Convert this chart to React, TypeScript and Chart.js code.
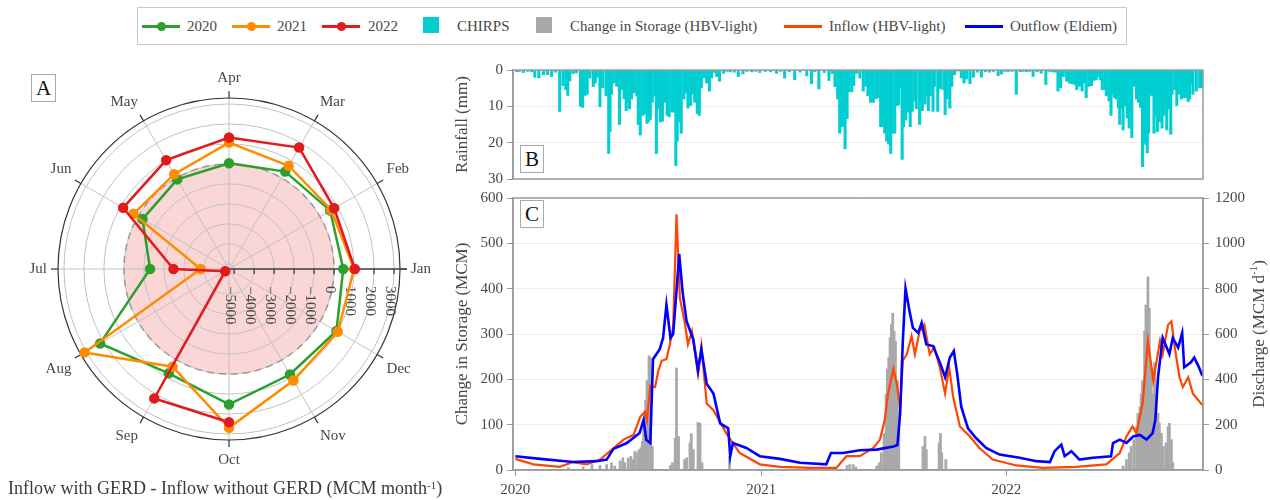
import React, { useEffect, useRef } from 'react';
import { Chart, registerables } from 'chart.js';
Chart.register(...registerables);

const FONT = '"Liberation Serif", "Times New Roman", Times, serif';
const TEXT = '#474747';
const GREEN = '#2ca02c';
const ORANGE = '#ff8c00';
const RED = '#e31a1c';
const CYAN = '#00ced1';
const GREY = '#a9a9a9';
const INFLOW = '#ff4500';
const OUTFLOW = '#0000ff';

// ---------------- Panel A ----------------
const monthNames = ['Jan', 'Feb', 'Mar', 'Apr', 'May', 'Jun', 'Jul', 'Aug', 'Sep', 'Oct', 'Nov', 'Dec'];
const radarOrder = [3, 2, 1, 0, 11, 10, 9, 8, 7, 6, 5, 4];
const diff2020 = [460, 590, 370, 30, -80, -260, -1310, 2190, 770, 1520, 840, 950];
const diff2021 = [1000, 650, 710, 1070, 220, 260, -3840, 3090, 390, 2690, 1190, 1030];
const diff2022 = [1040, 820, 1760, 1320, 1030, 860, -2480, -5040, 2220, 2410, null, null];
const radarTicks = [-5000, -4000, -3000, -2000, -1000, 0, 1000, 2000, 3000];
const RADAR_MIN = -5260;
const RADAR_MAX = 3300;

// ---------------- Panels B & C (day index from 2020-01-01) ----------------
const yearTicks = [0, 366, 731];
const yearLabels = ['2020', '2021', '2022'];
const X_MIN = -3.5;
const X_MAX = 1024;

const rainDays = [2, 6, 12, 18, 24, 29, 35, 42, 48, 54, 60, 66, 71, 75, 78, 81, 86, 91, 97, 100, 104, 107, 111, 116, 119, 122, 126, 130, 135, 139, 141, 143, 147, 151, 155, 158, 162, 165, 167, 170, 173, 177, 181, 183, 186, 190, 193, 196, 198, 201, 204, 208, 210, 213, 216, 219, 223, 226, 229, 233, 236, 239, 241, 244, 247, 251, 254, 257, 261, 264, 267, 271, 274, 277, 281, 285, 289, 292, 296, 300, 304, 310, 315, 320, 326, 332, 339, 345, 352, 358, 364, 372, 380, 389, 395, 401, 408, 416, 424, 434, 441, 446, 452, 460, 467, 472, 476, 480, 483, 487, 491, 494, 497, 501, 504, 508, 513, 518, 522, 525, 529, 533, 537, 540, 544, 547, 550, 553, 556, 559, 561, 565, 568, 571, 573, 576, 578, 581, 584, 588, 591, 595, 597, 602, 606, 610, 612, 615, 618, 622, 624, 629, 633, 638, 640, 643, 647, 650, 654, 659, 664, 668, 672, 677, 682, 688, 694, 700, 706, 712, 719, 724, 729, 734, 740, 746, 752, 756, 761, 766, 771, 777, 783, 790, 795, 800, 804, 808, 812, 816, 821, 825, 829, 833, 836, 840, 844, 847, 850, 854, 858, 861, 865, 868, 871, 874, 878, 880, 884, 887, 889, 892, 895, 898, 900, 903, 905, 908, 911, 914, 917, 918, 921, 925, 928, 931, 934, 936, 939, 941, 943, 946, 948, 951, 954, 956, 959, 961, 963, 966, 968, 970, 973, 976, 978, 982, 985, 988, 992, 994, 998, 1002, 1004, 1006, 1009, 1014, 1019, 1023];
const rainMm = [0.5, 0.4, 0.7, 0.4, 0.5, 2.0, 2.2, 1.3, 1.3, 1.8, 0.6, 11.4, 4.3, 5.4, 7, 3, 1, 0.8, 10, 10.3, 7, 6.7, 2.2, 4.6, 3.6, 2, 10.1, 4.9, 7.1, 23, 17, 6.7, 3.6, 4.5, 15, 5.4, 7.9, 11.2, 8.9, 10.7, 8, 6.3, 7.1, 15, 17.9, 12.5, 12, 14.7, 14.3, 13.6, 8.9, 7.1, 23, 10.7, 14.3, 14.1, 8.9, 12.5, 12.9, 11.6, 11.6, 26.3, 19.6, 14.3, 17.4, 8, 6.3, 10.5, 9.8, 6.7, 8.9, 12, 12.5, 4.9, 2.2, 3.6, 5.8, 2.2, 0.7, 1.8, 3.1, 0.9, 0.4, 0.5, 0.6, 1.8, 1.1, 0.4, 0.5, 0.4, 0.7, 0.4, 0.5, 0.9, 0.4, 2.2, 0.5, 2.7, 0.6, 1.6, 3.8, 0.5, 5.2, 0.7, 2.9, 1, 4.6, 8, 17.4, 15.6, 21.7, 13.4, 6, 6, 4.3, 0.9, 2.2, 5.8, 4.5, 7.1, 8.9, 8.9, 7.9, 7.6, 15.6, 15.6, 17.4, 19.6, 20.4, 23, 17.4, 17.4, 9.8, 9.6, 4.9, 24.6, 15.6, 13.8, 11.6, 15.6, 11.4, 8.5, 10.7, 15, 11.2, 9.4, 7.1, 11.2, 7.1, 11.4, 4.5, 11.4, 5.2, 5.4, 12.3, 8, 10.5, 4.5, 1.3, 0.3, 2.2, 3.6, 2.5, 3.8, 2, 0.6, 2, 0.5, 0.6, 0.4, 1.6, 1.1, 0.4, 0.5, 0.4, 6.7, 0.5, 0.4, 0.5, 0.4, 1.8, 0.5, 0.9, 4, 0.4, 0.5, 0.6, 5.8, 4.9, 1.8, 3.1, 3.6, 3.8, 4, 5.4, 4.5, 5.8, 3.6, 7.6, 4.5, 4.3, 2.9, 2.7, 1.8, 2.7, 5.4, 5.4, 7.1, 8.5, 12.5, 6.7, 7.6, 8, 10.5, 15, 10.5, 16.5, 9.8, 13.2, 16, 12, 18.6, 4.5, 8, 8.9, 10.3, 26.6, 20.1, 20.5, 22.8, 17.4, 6.7, 7.1, 17.4, 12.5, 17, 14.3, 8.7, 16, 12.5, 8.7, 16.5, 10.7, 17.7, 6.7, 5.4, 9.8, 6.7, 8, 7.6, 7.6, 8.7, 8, 4, 6.7, 5.8, 4.9, 4.9];

const storageDays = [79, 101, 114, 126, 136, 143, 148, 156, 160, 163, 168, 172, 175, 178, 182, 184, 187, 189, 191, 194, 196, 199, 201, 204, 231, 234, 238, 240, 243, 252, 255, 260, 262, 265, 272, 275, 278, 319, 494, 498, 503, 507, 538, 542, 545, 549, 552, 554, 556, 558, 560, 562, 564, 566, 569, 571, 607, 610, 612, 631, 633, 635, 641, 905, 910, 914, 917, 921, 925, 927, 930, 932, 934, 937, 939, 942, 944, 947, 949, 952, 954, 957, 959, 962, 965, 969, 972, 974, 977, 979];
const storageMcm = [5, 7, 12, 10, 12, 16, 9, 20, 27, 16, 27, 30, 23, 41, 38, 45, 49, 63, 110, 154, 197, 252, 248, 52, 10, 16, 70, 225, 74, 23, 27, 60, 80, 45, 105, 103, 16, 30, 10, 12, 12, 7, 9, 16, 38, 81, 168, 223, 248, 292, 321, 346, 306, 284, 197, 125, 52, 74, 45, 60, 81, 38, 23, 9, 23, 38, 52, 67, 96, 125, 139, 168, 197, 306, 364, 426, 357, 226, 168, 237, 183, 125, 103, 81, 52, 60, 96, 103, 67, 16];

const inflowDays = [0, 27, 66, 86, 106, 126, 141, 161, 176, 186, 193, 196, 201, 208, 213, 218, 225, 230, 235, 240, 245, 252, 257, 263, 272, 277, 285, 295, 314, 334, 364, 394, 439, 478, 493, 513, 533, 543, 550, 555, 563, 568, 573, 577, 583, 590, 595, 602, 609, 617, 624, 632, 640, 646, 652, 662, 677, 691, 711, 746, 786, 835, 880, 900, 910, 919, 925, 934, 942, 950, 960, 964, 972, 977, 982, 989, 994, 1002, 1009, 1023];
const inflowMcmD = [49, 25, 14, 35, 25, 46, 83, 134, 155, 235, 257, 220, 373, 366, 438, 482, 489, 554, 627, 1128, 758, 656, 554, 612, 424, 547, 293, 264, 163, 75, 25, 14, 9, 9, 61, 61, 97, 134, 221, 337, 446, 380, 271, 482, 511, 591, 511, 612, 641, 511, 540, 453, 337, 453, 322, 192, 148, 97, 46, 20, 9, 14, 25, 75, 148, 192, 163, 293, 569, 395, 569, 511, 641, 656, 540, 409, 366, 409, 337, 286];

const outflowDays = [0, 37, 86, 121, 136, 146, 166, 185, 191, 195, 201, 205, 215, 220, 225, 231, 235, 241, 244, 249, 255, 265, 272, 277, 285, 295, 305, 317, 320, 324, 344, 364, 394, 424, 463, 470, 488, 513, 538, 563, 569, 573, 577, 581, 587, 592, 600, 605, 612, 622, 632, 640, 647, 653, 658, 664, 674, 686, 701, 721, 751, 776, 796, 803, 813, 818, 828, 840, 860, 887, 890, 900, 910, 920, 930, 940, 949, 953, 957, 964, 974, 979, 987, 993, 996, 1006, 1011, 1018, 1023];
const outflowMcmD = [61, 49, 35, 39, 46, 93, 119, 163, 221, 133, 119, 489, 533, 583, 729, 583, 600, 830, 953, 787, 656, 576, 438, 533, 380, 337, 206, 184, 61, 119, 97, 61, 49, 32, 25, 75, 75, 87, 90, 104, 110, 250, 569, 801, 700, 627, 605, 649, 554, 547, 475, 409, 496, 525, 424, 279, 184, 141, 97, 68, 54, 39, 35, 83, 112, 61, 83, 46, 54, 61, 119, 134, 119, 148, 155, 134, 163, 221, 409, 583, 511, 583, 540, 605, 453, 475, 496, 453, 416];

const pairs = (xs: number[], ys: number[]) => xs.map((x, i) => ({ x, y: ys[i] }));
const tickFont = { family: FONT, size: 15 };
const titleFont = { family: FONT, size: 17 };
const plainTick = (v: any) => String(v);

const radarExtras = {
  id: 'radarExtras',
  beforeDraw(chart: any) {
    const r = chart.scales.r;
    const ctx = chart.ctx;
    ctx.save();
    ctx.fillStyle = 'rgba(240,130,130,0.33)';
    ctx.beginPath();
    ctx.arc(r.xCenter, r.yCenter, r.getDistanceFromCenterForValue(0), 0, Math.PI * 2);
    ctx.fill();
    ctx.restore();
  },
  beforeDatasetsDraw(chart: any) {
    const r = chart.scales.r;
    const ctx = chart.ctx;
    const cx = r.xCenter;
    const cy = r.yCenter;
    const R = r.getDistanceFromCenterForValue(RADAR_MAX);
    ctx.save();
    ctx.strokeStyle = '#9a9a9a';
    ctx.lineWidth = 1.5;
    ctx.setLineDash([7, 5]);
    ctx.beginPath();
    ctx.arc(cx, cy, r.getDistanceFromCenterForValue(0), 0, Math.PI * 2);
    ctx.stroke();
    ctx.setLineDash([]);
    ctx.strokeStyle = '#333';
    ctx.lineWidth = 1.2;
    ctx.beginPath();
    ctx.arc(cx, cy, R, 0, Math.PI * 2);
    ctx.stroke();
    const n = chart.data.labels.length;
    for (let i = 0; i < n; i++) {
      const a = r.getIndexAngle(i) - Math.PI / 2;
      ctx.beginPath();
      ctx.moveTo(cx + R * Math.cos(a), cy + R * Math.sin(a));
      ctx.lineTo(cx + (R + 7) * Math.cos(a), cy + (R + 7) * Math.sin(a));
      ctx.stroke();
    }
    ctx.strokeStyle = '#444';
    ctx.lineWidth = 1.3;
    ctx.beginPath();
    ctx.moveTo(cx, cy);
    ctx.lineTo(cx + R + 7, cy);
    ctx.stroke();
    ctx.fillStyle = TEXT;
    ctx.font = `15px ${FONT}`;
    ctx.textAlign = 'left';
    ctx.textBaseline = 'middle';
    radarTicks.forEach((v) => {
      const x = cx + r.getDistanceFromCenterForValue(v);
      ctx.beginPath();
      ctx.moveTo(x, cy);
      ctx.lineTo(x, cy + 5);
      ctx.stroke();
      ctx.save();
      ctx.translate(x, cy + 17);
      ctx.rotate(Math.PI / 2);
      const label = v < 0 ? '\u2212' + Math.abs(v) : String(v);
      ctx.fillText(label, 0, 4);
      ctx.restore();
    });
    ctx.restore();
  },
};

const framePlugin = {
  id: 'frame',
  afterDatasetsDraw(chart: any) {
    const { ctx, chartArea: a } = chart;
    ctx.save();
    ctx.strokeStyle = '#9a9a9a';
    ctx.lineWidth = 1.5;
    ctx.strokeRect(a.left, a.top, a.right - a.left, a.bottom - a.top);
    ctx.restore();
  },
};

const dischargeTitle = {
  id: 'dischargeTitle',
  afterDraw(chart: any) {
    const { ctx, chartArea } = chart;
    const s = chart.scales.y1;
    const x = s.right - 10;
    const y = (chartArea.top + chartArea.bottom) / 2;
    const main = 'Discharge (MCM d';
    const sup = '-1';
    const end = ')';
    ctx.save();
    ctx.fillStyle = TEXT;
    ctx.translate(x, y);
    ctx.rotate(-Math.PI / 2);
    ctx.textBaseline = 'middle';
    ctx.textAlign = 'left';
    ctx.font = `17px ${FONT}`;
    const w1 = ctx.measureText(main).width;
    const w3 = ctx.measureText(end).width;
    ctx.font = `11px ${FONT}`;
    const w2 = ctx.measureText(sup).width;
    let sx = -(w1 + w2 + w3) / 2;
    ctx.font = `17px ${FONT}`;
    ctx.fillText(main, sx, 0);
    sx += w1;
    ctx.font = `11px ${FONT}`;
    ctx.fillText(sup, sx, -6);
    sx += w2;
    ctx.font = `17px ${FONT}`;
    ctx.fillText(end, sx, 0);
    ctx.restore();
  },
};

const legendEntries = [
  { label: '2020', kind: 'dot', color: GREEN, sx: 142, tx: 187 },
  { label: '2021', kind: 'dot', color: ORANGE, sx: 232, tx: 277 },
  { label: '2022', kind: 'dot', color: RED, sx: 322, tx: 368 },
  { label: 'CHIRPS', kind: 'box', color: CYAN, sx: 423, tx: 457 },
  { label: 'Change in Storage (HBV-light)', kind: 'box', color: GREY, sx: 536, tx: 570 },
  { label: 'Inflow (HBV-light)', kind: 'line', color: INFLOW, sx: 784, tx: 829 },
  { label: 'Outflow (Eldiem)', kind: 'line', color: OUTFLOW, sx: 965, tx: 1010 },
];

function LegendSymbol({ kind, color, left }: { kind: string; color: string; left: number }) {
  if (kind === 'box') {
    return <div style={{ position: 'absolute', left, top: 17, width: 16, height: 16, background: color }} />;
  }
  return (
    <div style={{ position: 'absolute', left, top: 25, width: 38, height: 3, background: color }}>
      {kind === 'dot' && (
        <div style={{ position: 'absolute', left: 15, top: -3, width: 9, height: 9, borderRadius: 5, background: color }} />
      )}
    </div>
  );
}

const panelBox = (left: number, top: number, w: number, h: number, size: number) => ({
  position: 'absolute' as const,
  left,
  top,
  width: w,
  height: h,
  border: '1px solid #aaa',
  background: '#fff',
  fontFamily: FONT,
  fontSize: size,
  color: '#111',
  display: 'flex',
  alignItems: 'center',
  justifyContent: 'center',
  boxSizing: 'border-box' as const,
});

export default function App() {
  const aRef = useRef<HTMLCanvasElement>(null);
  const bRef = useRef<HTMLCanvasElement>(null);
  const cRef = useRef<HTMLCanvasElement>(null);

  useEffect(() => {
    const charts: Chart[] = [];
    const mk = (label: string, vals: (number | null)[], color: string, order: number) => ({
      label,
      data: radarOrder.map((i) => vals[i]),
      borderColor: color,
      backgroundColor: color,
      pointBackgroundColor: color,
      pointBorderColor: color,
      pointRadius: 4,
      borderWidth: 2.5,
      fill: false,
      order,
      spanGaps: false,
    });
    charts.push(
      new Chart(aRef.current as HTMLCanvasElement, {
        type: 'radar',
        data: {
          labels: radarOrder.map((i) => monthNames[i]),
          datasets: [mk('2020', diff2020, GREEN, 3), mk('2021', diff2021, ORANGE, 2), mk('2022', diff2022, RED, 1)] as any,
        },
        options: {
          animation: false,
          responsive: false,
          plugins: { legend: { display: false }, tooltip: { enabled: false } },
          elements: { line: { tension: 0 } },
          scales: {
            r: {
              min: RADAR_MIN,
              max: RADAR_MAX,
              startAngle: 0,
              afterBuildTicks: (s: any) => {
                s.ticks = radarTicks.map((v) => ({ value: v }));
              },
              ticks: { display: false },
              grid: { circular: true, color: '#c2c2c2', lineWidth: 1 },
              angleLines: { color: '#c2c2c2', lineWidth: 1 },
              pointLabels: { font: { family: FONT, size: 15 }, color: TEXT, padding: 11 },
            } as any,
          },
        },
        plugins: [radarExtras],
      })
    );

    charts.push(
      new Chart(bRef.current as HTMLCanvasElement, {
        type: 'bar',
        data: {
          datasets: [
            {
              label: 'CHIRPS',
              data: pairs(rainDays, rainMm),
              backgroundColor: CYAN,
              barThickness: 2.4,
              grouped: false,
            } as any,
          ],
        },
        options: {
          animation: false,
          responsive: false,
          layout: { padding: { left: 0, right: 67, top: 10, bottom: 13 } },
          plugins: { legend: { display: false }, tooltip: { enabled: false } },
          scales: {
            x: { type: 'linear', min: X_MIN, max: X_MAX, offset: false, display: false, grid: { offset: false } } as any,
            y: {
              reverse: true,
              min: 0,
              max: 30,
              afterFit: (s: any) => {
                s.width = 73;
              },
              ticks: { stepSize: 10, font: tickFont, color: TEXT, padding: 4, callback: plainTick },
              grid: { color: '#eeeeee', tickColor: '#9a9a9a', tickLength: 6 },
              border: { color: '#9a9a9a', width: 1.5 },
              title: { display: true, text: 'Rainfall (mm)', font: titleFont, color: TEXT, padding: { top: 12, bottom: 0 } },
            } as any,
          },
        },
        plugins: [framePlugin],
      })
    );

    charts.push(
      new Chart(cRef.current as HTMLCanvasElement, {
        type: 'bar',
        data: {
          datasets: [
            {
              type: 'line',
              label: 'Outflow (Eldiem)',
              data: pairs(outflowDays, outflowMcmD),
              borderColor: OUTFLOW,
              borderWidth: 2.6,
              pointRadius: 0,
              yAxisID: 'y1',
              order: 0,
            },
            {
              type: 'line',
              label: 'Inflow (HBV-light)',
              data: pairs(inflowDays, inflowMcmD),
              borderColor: INFLOW,
              borderWidth: 2.2,
              pointRadius: 0,
              yAxisID: 'y1',
              order: 1,
            },
            {
              type: 'bar',
              label: 'Change in Storage (HBV-light)',
              data: pairs(storageDays, storageMcm),
              backgroundColor: GREY,
              barThickness: 2.1,
              grouped: false,
              yAxisID: 'y',
              order: 2,
            },
          ] as any,
        },
        options: {
          animation: false,
          responsive: false,
          layout: { padding: { left: 0, right: 0, top: 12, bottom: 0 } },
          plugins: { legend: { display: false }, tooltip: { enabled: false } },
          scales: {
            x: {
              type: 'linear',
              min: X_MIN,
              max: X_MAX,
              offset: false,
              afterBuildTicks: (s: any) => {
                s.ticks = yearTicks.map((v) => ({ value: v }));
              },
              afterFit: (s: any) => {
                s.height = 30;
              },
              ticks: {
                callback: (v: any) => {
                  const k = yearTicks.indexOf(Number(v));
                  return k >= 0 ? yearLabels[k] : '';
                },
                font: tickFont,
                color: TEXT,
                padding: 5,
                maxRotation: 0,
                autoSkip: false,
              },
              grid: { offset: false, drawOnChartArea: false, tickColor: '#9a9a9a', tickLength: 6 },
              border: { color: '#9a9a9a', width: 1.5 },
            } as any,
            y: {
              position: 'left',
              min: 0,
              max: 600,
              afterFit: (s: any) => {
                s.width = 73;
              },
              ticks: { stepSize: 100, font: tickFont, color: TEXT, padding: 4, callback: plainTick },
              grid: { color: '#eeeeee', tickColor: '#9a9a9a', tickLength: 6 },
              border: { color: '#9a9a9a', width: 1.5 },
              title: { display: true, text: 'Change in Storage (MCM)', font: titleFont, color: TEXT, padding: { top: 12, bottom: 0 } },
            } as any,
            y1: {
              position: 'right',
              min: 0,
              max: 1200,
              afterFit: (s: any) => {
                s.width = 67;
              },
              ticks: { stepSize: 200, font: tickFont, color: TEXT, padding: 6, callback: plainTick },
              grid: { drawOnChartArea: false, tickColor: '#9a9a9a', tickLength: 6 },
              border: { color: '#9a9a9a', width: 1.5 },
            } as any,
          },
        },
        plugins: [framePlugin, dischargeTitle],
      })
    );

    return () => charts.forEach((c) => c.destroy());
  }, []);

  return (
    <div style={{ position: 'fixed', left: 0, top: 0, width: 1270, height: 500, background: '#fff', overflow: 'hidden', fontFamily: FONT, color: TEXT }}>
      <canvas ref={aRef} width={404} height={404} style={{ position: 'absolute', left: 29, top: 67, width: 404, height: 404 }} />
      <canvas ref={bRef} width={830} height={135} style={{ position: 'absolute', left: 440, top: 57, width: 830, height: 135 }} />
      <canvas ref={cRef} width={830} height={317} style={{ position: 'absolute', left: 440, top: 183, width: 830, height: 317 }} />

      <div style={{ position: 'absolute', left: 137, top: 7, width: 990, height: 38, border: '1px solid #c8c8c8', boxSizing: 'border-box' }} />
      {legendEntries.map((e) => (
        <React.Fragment key={e.label}>
          <LegendSymbol kind={e.kind} color={e.color} left={e.sx} />
          <div style={{ position: 'absolute', left: e.tx, top: 16, fontSize: 15, lineHeight: '20px', whiteSpace: 'nowrap', color: TEXT }}>{e.label}</div>
        </React.Fragment>
      ))}

      <div style={panelBox(31, 74, 25, 28, 21)}>A</div>
      <div style={panelBox(520, 145, 24, 28, 21)}>B</div>
      <div style={panelBox(520, 200, 24, 28, 21)}>C</div>

      <div style={{ position: 'absolute', left: 8, top: 477, fontSize: 18, lineHeight: '22px', whiteSpace: 'nowrap', color: '#3a3a3a' }}>
        Inflow with GERD - Inflow without GERD (MCM month<sup style={{ fontSize: 11, verticalAlign: 'top', position: 'relative', top: -3 }}>-1</sup>)
      </div>
    </div>
  );
}
